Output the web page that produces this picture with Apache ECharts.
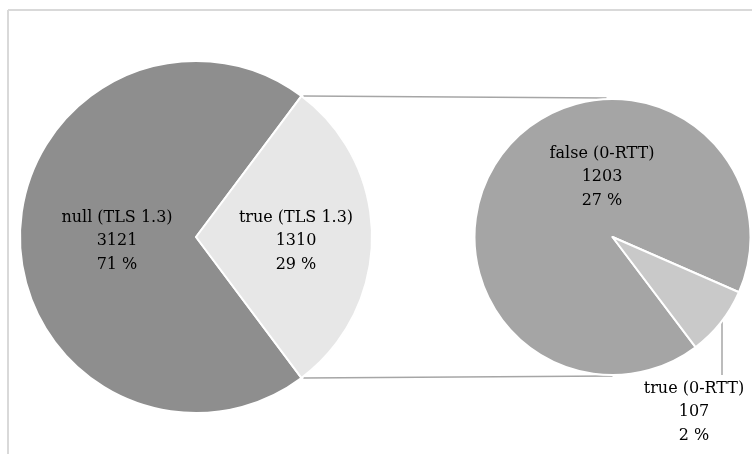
<!DOCTYPE html>
<html>
<head>
<meta charset="utf-8">
<script src="https://cdn.jsdelivr.net/npm/echarts@6/dist/echarts.min.js"></script>
<style>
  html, body { margin: 0; padding: 0; background: #fff; }
  #chart { width: 752px; height: 454px; }
</style>
</head>
<body>
<div id="chart"></div>
<script>
// TLS 1.3 handshakes, and the split of the TLS 1.3 ones by 0-RTT use
const mainNames = ['null (TLS 1.3)', 'true (TLS 1.3)'];
const mainValues = [3121, 1310];
const mainPercents = [71, 29];

const subNames = ['false (0-RTT)', 'true (0-RTT)'];
const subValues = [1203, 107];
const subPercents = [27, 2];

const mainColors = ['#8e8e8e', '#e7e7e7'];
const subColors = ['#a5a5a5', '#c9c9c9'];

// layout of the two pies (pixels)
const C1 = [196, 237], R1 = 176;
const C2 = [612.5, 237], R2 = 138;

const FONT = 'DejaVu Serif';
const deg = Math.PI / 180;

const mainTotal = mainValues.reduce((a, b) => a + b, 0);
const subTotal = subValues.reduce((a, b) => a + b, 0);

// the exploded slice ("true") is centred on the right-hand side of the main pie
const halfSpan = mainValues[1] / mainTotal * 180;
const mainStart = halfSpan + mainValues[0] / mainTotal * 360;

// second pie: the small slice sits at the lower right
const subSmallStart = -23.6;
const subStart = subSmallStart + subValues[0] / subTotal * 360;

function labelText(names, values, pcts) {
  return function (p) {
    return names[p.dataIndex] + '\n' + values[p.dataIndex] + '\n' + pcts[p.dataIndex] + ' %';
  };
}

const labelStyle = {
  fontFamily: FONT,
  fontSize: 16,
  lineHeight: 23.5,
  color: '#000',
  align: 'center'
};

// label anchors, relative to each pie's centre
const mainLabelPos = [[-79, 4], [100, 4]];
const subLabelPos = [[-10.5, -60], [81.5, 175]];

// connector lines from the edges of the exploded slice to the second pie
const topStart = [C1[0] + R1 * Math.cos(halfSpan * deg), C1[1] - R1 * Math.sin(halfSpan * deg)];
const botStart = [C1[0] + R1 * Math.cos(halfSpan * deg), C1[1] + R1 * Math.sin(halfSpan * deg)];
const topEnd = [C2[0], C2[1] - R2];
const botEnd = [C2[0], C2[1] + R2];

// leader line for the small slice label
const leaderX = C2[0] + 109.5;
const leaderTop = C2[1] + Math.sqrt(R2 * R2 - 109.5 * 109.5);
const leaderBottom = C2[1] + subLabelPos[1][1] - 37;

const chart = echarts.init(document.getElementById('chart'), null, { renderer: 'canvas' });

chart.setOption({
  backgroundColor: '#ffffff',
  animation: false,
  graphic: [
    { type: 'line', shape: { x1: 8, y1: 10, x2: 760, y2: 10 }, style: { stroke: '#d9d9d9', lineWidth: 2 }, silent: true },
    { type: 'line', shape: { x1: 8, y1: 10, x2: 8, y2: 460 }, style: { stroke: '#d9d9d9', lineWidth: 2 }, silent: true },
    { type: 'line', shape: { x1: topStart[0] + 2, y1: topStart[1], x2: topEnd[0] - 6, y2: topEnd[1] - 1 }, style: { stroke: '#a6a6a6', lineWidth: 1.5 }, silent: true, z: 1 },
    { type: 'line', shape: { x1: botStart[0] + 2, y1: botStart[1], x2: botEnd[0], y2: botEnd[1] + 1 }, style: { stroke: '#a6a6a6', lineWidth: 1.5 }, silent: true, z: 1 },
    { type: 'line', shape: { x1: leaderX, y1: leaderTop, x2: leaderX, y2: leaderBottom }, style: { stroke: '#a6a6a6', lineWidth: 1.5 }, silent: true, z: 1 }
  ],
  series: [
    {
      type: 'pie',
      center: C1,
      radius: [0, R1],
      startAngle: mainStart,
      clockwise: true,
      avoidLabelOverlap: false,
      itemStyle: { borderColor: '#ffffff', borderWidth: 2 },
      label: Object.assign({ show: true, position: 'inside', formatter: labelText(mainNames, mainValues, mainPercents) }, labelStyle),
      labelLine: { show: false },
      labelLayout: function (p) {
        const o = mainLabelPos[p.dataIndex];
        return { x: C1[0] + o[0], y: C1[1] + o[1], align: 'center', verticalAlign: 'middle' };
      },
      emphasis: { disabled: true },
      data: mainNames.map((n, i) => ({ name: n, value: mainValues[i], itemStyle: { color: mainColors[i] } }))
    },
    {
      type: 'pie',
      center: C2,
      radius: [0, R2],
      startAngle: subStart,
      clockwise: true,
      avoidLabelOverlap: false,
      itemStyle: { borderColor: '#ffffff', borderWidth: 2 },
      label: Object.assign({ show: true, position: 'inside', formatter: labelText(subNames, subValues, subPercents) }, labelStyle),
      labelLine: { show: false },
      labelLayout: function (p) {
        const o = subLabelPos[p.dataIndex];
        return { x: C2[0] + o[0], y: C2[1] + o[1], align: 'center', verticalAlign: 'middle' };
      },
      emphasis: { disabled: true },
      data: subNames.map((n, i) => ({ name: n, value: subValues[i], itemStyle: { color: subColors[i] } }))
    }
  ]
});
</script>
</body>
</html>
